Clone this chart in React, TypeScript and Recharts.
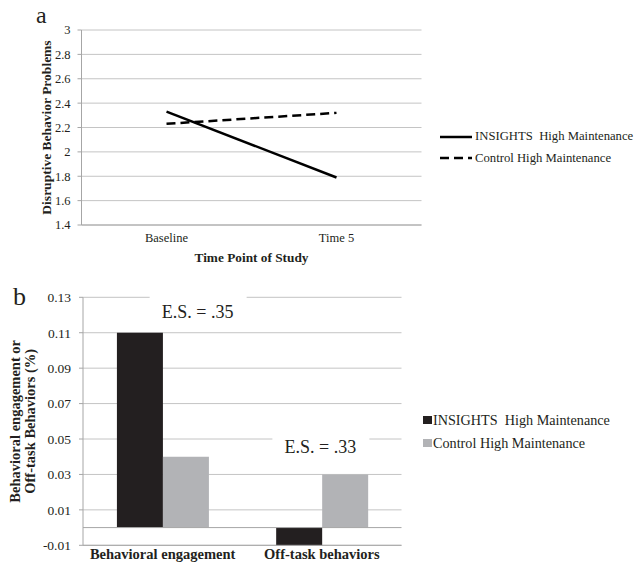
import React from "react";
import { LineChart, Line, BarChart, Bar, XAxis, YAxis, CartesianGrid, ReferenceLine, ReferenceDot, Label } from "recharts";

// panel a
const timePoints = ["Baseline", "Time 5"];
const insightsProblems = [2.33, 1.79];
const controlProblems = [2.23, 2.32];
const problemTicks = [1.4, 1.6, 1.8, 2, 2.2, 2.4, 2.6, 2.8, 3];

// panel b
const outcomes = ["Behavioral engagement", "Off-task behaviors"];
const insightsOutcomes = [0.11, -0.01];
const controlOutcomes = [0.04, 0.03];
const outcomeTicks = [-0.01, 0.01, 0.03, 0.05, 0.07, 0.09, 0.11, 0.13];
const effectSizes = ["E.S. = .35", "E.S. = .33"];

const seriesNames = ["INSIGHTS  High Maintenance", "Control High Maintenance"];

const SERIF = "'Liberation Serif', serif";
const TEXT = "#231f20";
const GRID = "#c4c4c4";
const AXIS = "#a6a6a6";
const DARK = "#231f20";
const LIGHT = "#b2b3b6";

const lineData = timePoints.map((t, i) => ({ time: t, insights: insightsProblems[i], control: controlProblems[i] }));
const barData = outcomes.map((o, i) => ({ outcome: o, insights: insightsOutcomes[i], control: controlOutcomes[i] }));

// rotated axis title, one or more lines
function VerticalTitle({ viewBox, lines, x, size }: any) {
  const cy = viewBox.y + viewBox.height / 2;
  return (
    <text
      x={x}
      y={cy}
      transform={`rotate(-90, ${x}, ${cy})`}
      textAnchor="middle"
      dominantBaseline="central"
      fontFamily={SERIF}
      fontWeight="bold"
      fontSize={size}
      fill={TEXT}
    >
      {lines.map((l: string, i: number) => (
        <tspan key={l} x={x} dy={i === 0 ? 0 : 14.5}>
          {l}
        </tspan>
      ))}
    </text>
  );
}

function EffectSize({ cx, cy, text, dx }: any) {
  const x = cx + (dx || 0);
  return (
    <g>
      <rect x={x - 48} y={cy - 18} width={97} height={36} fill="#fff" />
      <text x={x} y={cy} textAnchor="middle" dominantBaseline="central" fontFamily={SERIF} fontSize={18} fill={TEXT}>
        {text}
      </text>
    </g>
  );
}

export default function App() {
  const tickStyle = { fontFamily: SERIF, fontSize: 12.5, fill: TEXT };
  return (
    <div style={{ position: "absolute", left: 0, top: 0, width: 635, height: 564, background: "#fff", overflow: "hidden" }}>
      <div style={{ position: "absolute", left: 0, top: 0 }}>
        <LineChart width={635} height={270} data={lineData} margin={{ top: 30, right: 213.5, left: 0, bottom: 0 }}>
          <CartesianGrid vertical={false} stroke={GRID} />
          <XAxis
            dataKey="time"
            scale="band"
            height={45}
            stroke={AXIS}
            tickLine={false}
            tickSize={4}
            tickMargin={4}
            tick={tickStyle}
          >
            <Label
              content={(p: any) => (
                <text
                  x={p.viewBox.x + p.viewBox.width / 2}
                  y={257}
                  textAnchor="middle"
                  dominantBaseline="central"
                  fontFamily={SERIF}
                  fontWeight="bold"
                  fontSize={13.3}
                  fill={TEXT}
                >
                  Time Point of Study
                </text>
              )}
            />
          </XAxis>
          <YAxis
            width={81.5}
            domain={[1.4, 3]}
            ticks={problemTicks}
            stroke={AXIS}
            tickSize={4}
            tickMargin={7}
            tick={tickStyle}
          >
            <Label content={(p: any) => <VerticalTitle {...p} lines={["Disruptive Behavior Problems"]} x={46} size={13.5} />} />
          </YAxis>
          <Line dataKey="insights" name={seriesNames[0]} stroke="#000" strokeWidth={2.5} dot={false} isAnimationActive={false} />
          <Line dataKey="control" name={seriesNames[1]} stroke="#000" strokeWidth={2.5} strokeDasharray="9 5" dot={false} isAnimationActive={false} />
        </LineChart>
      </div>

      <div style={{ position: "absolute", left: 0, top: 270 }}>
        <BarChart
          width={635}
          height={298}
          data={barData}
          margin={{ top: 27.3, right: 233.5, left: 0, bottom: 4 }}
          barCategoryGap="21.3%"
          barGap={0}
        >
          <CartesianGrid vertical={false} stroke={GRID} />
          <XAxis
            dataKey="outcome"
            height={18.7}
            stroke={AXIS}
            tickLine={false}
            tickSize={0}
            tickMargin={3.5}
            tick={{ fontFamily: SERIF, fontSize: 14.5, fontWeight: "bold", fill: TEXT }}
          />
          <YAxis
            width={83}
            domain={[-0.01, 0.13]}
            ticks={outcomeTicks}
            stroke={AXIS}
            tickSize={4}
            tickMargin={8}
            tick={{ fontFamily: SERIF, fontSize: 13.5, fill: TEXT }}
          >
            <Label
              content={(p: any) => (
                <VerticalTitle {...p} lines={["Behavioral engagement or", "Off-task Behaviors (%)"]} x={15.5} size={14.5} />
              )}
            />
          </YAxis>
          <ReferenceLine y={0} stroke={AXIS} />
          <Bar dataKey="insights" name={seriesNames[0]} fill={DARK} isAnimationActive={false} />
          <Bar dataKey="control" name={seriesNames[1]} fill={LIGHT} isAnimationActive={false} />
          <ReferenceDot
            x={outcomes[0]}
            y={0.1217}
            shape={(p: any) => <EffectSize {...p} text={effectSizes[0]} dx={35} />}
          />
          <ReferenceDot
            x={outcomes[1]}
            y={0.0456}
            shape={(p: any) => <EffectSize {...p} text={effectSizes[1]} dx={-1.5} />}
          />
        </BarChart>
      </div>

      {/* legend a */}
      <div style={{ position: "absolute", left: 440, top: 125.75, fontFamily: SERIF, fontSize: 12.7, color: TEXT }}>
        {seriesNames.map((n, i) => (
          <div key={n} style={{ display: "flex", alignItems: "center", height: 21.7, whiteSpace: "pre" }}>
            <svg width={32} height={4}>
              <line x1={0} y1={2} x2={32} y2={2} stroke="#000" strokeWidth={2.5} strokeDasharray={i === 1 ? "9 5" : undefined} />
            </svg>
            <span style={{ marginLeft: 3 }}>{n}</span>
          </div>
        ))}
      </div>

      {/* legend b */}
      <div style={{ position: "absolute", left: 423, top: 408.5, fontFamily: SERIF, fontSize: 14.2, color: TEXT }}>
        {seriesNames.map((n, i) => (
          <div key={n} style={{ display: "flex", alignItems: "center", height: 23, whiteSpace: "pre" }}>
            <span style={{ display: "inline-block", width: 8.5, height: 8.5, background: i === 0 ? DARK : LIGHT }} />
            <span style={{ marginLeft: 1.5 }}>{n}</span>
          </div>
        ))}
      </div>

      <svg width={635} height={564} style={{ position: "absolute", left: 0, top: 0, pointerEvents: "none" }}>
        <text x={36} y={23} fontFamily={SERIF} fontSize={24} fill={TEXT}>a</text>
        <text x={13} y={305} fontFamily={SERIF} fontSize={26} fill={TEXT}>b</text>
      </svg>
    </div>
  );
}
